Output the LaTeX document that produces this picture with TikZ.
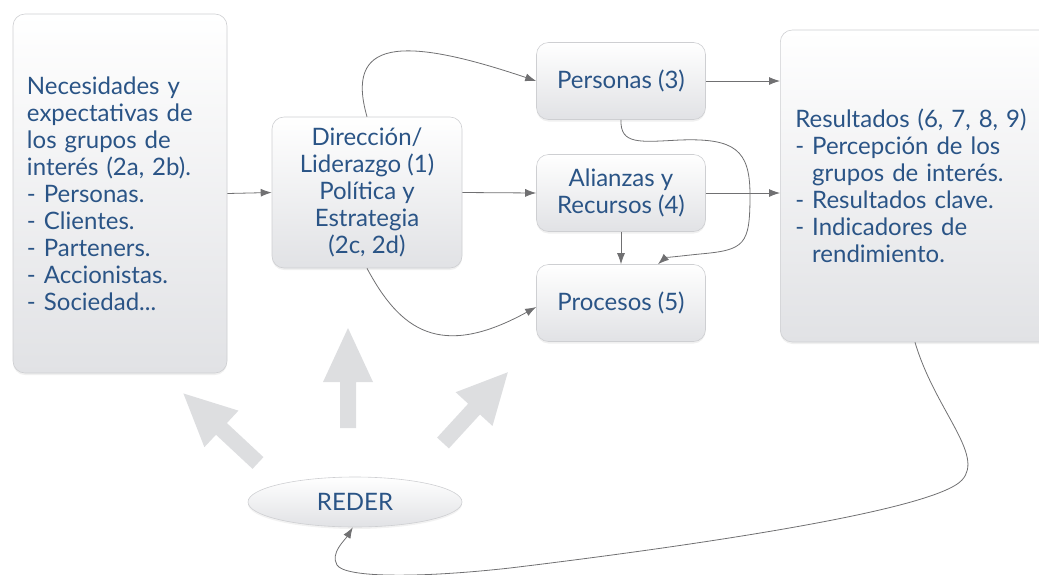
\documentclass[tikz,border=0pt]{standalone}
\usepackage{fontspec}
\setmainfont{Lato}
\usetikzlibrary{arrows.meta,shapes.geometric,shadows,calc}
\definecolor{txtblue}{RGB}{42,84,134}
\definecolor{boxbot}{RGB}{225,226,229}
\definecolor{boxline}{RGB}{206,207,210}
\definecolor{connc}{RGB}{112,112,114}
\definecolor{bigarr}{RGB}{221,222,224}
\begin{document}
\begin{tikzpicture}[x=1pt,y=-1pt,
  box/.style={draw=boxline, line width=0.6pt, rounded corners=12pt,
    top color=white, bottom color=boxbot, text=txtblue,
    font=\fontsize{24}{27}\selectfont, inner sep=0pt,
    drop shadow={opacity=0.12, shadow xshift=0pt, shadow yshift=-2pt}},
  link/.style={draw=connc, line width=0.8pt, -{Latex[length=11pt,width=8pt]}},
  bigarrow/.style={fill=bigarr}]
\useasboundingbox (0,0) rectangle (1039,574);

% boxes
\node[box, minimum height=359pt, text width=186pt, inner xsep=14pt, align=left] (needs) at (120,193.5)
  {Necesidades y\\expectativas de\\los grupos de\\interés (2a, 2b).\\- Personas.\\- Clientes.\\- Parteners.\\- Accionistas.\\- Sociedad...};
\node[box, minimum width=190pt, minimum height=151pt, align=center] (dir) at (367,192.5)
  {Dirección/\\Liderazgo (1)\\Política y\\Estrategia\\(2c, 2d)};
\node[box, minimum width=169pt, minimum height=77pt, align=center] (pers) at (621,81) {Personas (3)};
\node[box, minimum width=169pt, minimum height=77pt, align=center] (ali) at (621,193) {Alianzas y\\Recursos (4)};
\node[box, minimum width=169pt, minimum height=77pt, align=center] (proc) at (621,303) {Procesos (5)};
\node[box, minimum height=312pt, text width=262pt, inner xsep=15pt, align=left, anchor=west] (res) at (780,186)
  {Resultados (6, 7, 8, 9)\\- Percepción de los\\\phantom{- }grupos de interés.\\- Resultados clave.\\- Indicadores de\\\phantom{- }rendimiento.};
\node[draw=boxline, line width=0.6pt, ellipse, top color=white, bottom color=boxbot,
  minimum width=214pt, minimum height=50pt, text=txtblue,
  font=\fontsize{24}{27}\selectfont,
  drop shadow={opacity=0.10, shadow xshift=0pt, shadow yshift=-2pt}] (reder) at (355,502) {REDER};

% big grey arrows
\begin{scope}[shift={(258,463)}, rotate=137]
  \fill[bigarrow] (0,-8) -- (50,-8) -- (50,-25) -- (102,0) -- (50,25) -- (50,8) -- (0,8) -- cycle;
\end{scope}
\begin{scope}[shift={(348,428)}, rotate=90]
  \fill[bigarrow] (0,-8) -- (46,-8) -- (46,-25) -- (100,0) -- (46,25) -- (46,8) -- (0,8) -- cycle;
\end{scope}
\begin{scope}[shift={(443,443)}, rotate=47.5]
  \fill[bigarrow] (0,-8) -- (46,-8) -- (46,-25) -- (96,0) -- (46,25) -- (46,8) -- (0,8) -- cycle;
\end{scope}

% connectors
\draw[link] (needs.east) -- (dir.west);
\draw[link] (dir.east) -- (ali.west);
\draw[link] (pers.east) -- (pers.east -| res.west);
\draw[link] (ali.east) -- (ali.east -| res.west);
\draw[link] (ali.south) -- (proc.north);
\draw[link] (dir.north) .. controls (345,40) and (400,35) .. (pers.west);
\draw[link] (dir.south) .. controls (400,330) and (440,360) .. ($(proc.west)+(0,4)$);
\draw[link] (pers.south) .. controls (620,145) and (640,142) .. (680,140)
  .. controls (735,138) and (750,150) .. (750,195)
  .. controls (750,245) and (745,250) .. (700,254)
  .. controls (680,256) and (665,258) .. ($(proc.north)+(37,0)$);
\draw[link] ($(res.south west)+(135,0)$) .. controls (935,410) and (985,455) .. (962,480)
  .. controls (935,510) and (700,545) .. (510,568)
  .. controls (420,578) and (345,578) .. (337,565)
  .. controls (330,553) and (345,540) .. (reder.-95);
\end{tikzpicture}
\end{document}
